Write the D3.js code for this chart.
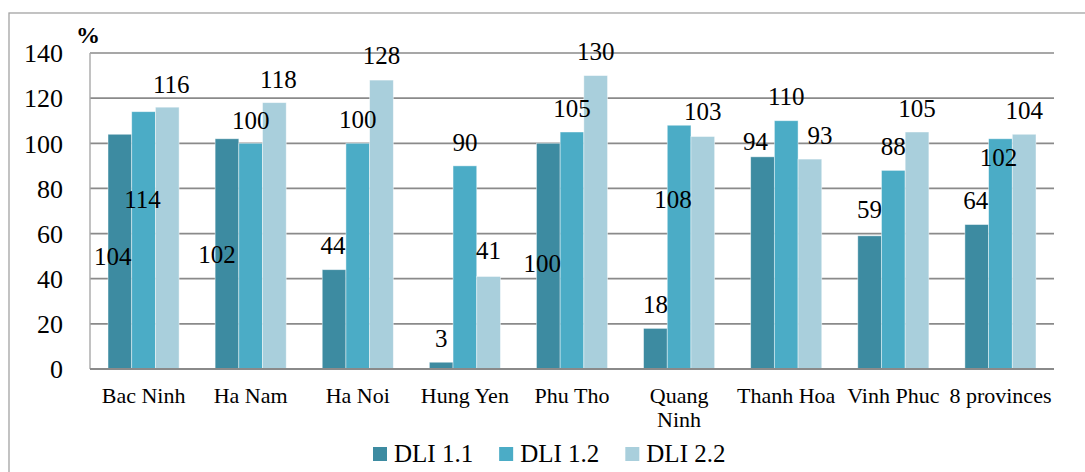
<!DOCTYPE html>
<html>
<head>
<meta charset="utf-8">
<script src="https://cdn.jsdelivr.net/npm/d3@7/dist/d3.min.js"></script>
<style>
  html, body { margin: 0; padding: 0; background: #fff; }
  svg { display: block; }
  text { font-family: "Liberation Serif", "Times New Roman", serif; fill: #000; }
</style>
</head>
<body>
<svg id="chart" width="1085" height="472"></svg>
<script>
// Provinces along the category axis
const provinces = ["Bac Ninh", "Ha Nam", "Ha Noi", "Hung Yen", "Phu Tho", "Quang Ninh", "Thanh Hoa", "Vinh Phuc", "8 provinces"];

// Series names and values (%)
const seriesNames = ["DLI 1.1", "DLI 1.2", "DLI 2.2"];
const dli11 = [104, 102, 44, 3, 100, 18, 94, 59, 64];
const dli12 = [114, 100, 100, 90, 105, 108, 110, 88, 102];
const dli22 = [116, 118, 128, 41, 130, 103, 93, 105, 104];

// Value axis ticks
const yTicks = [0, 20, 40, 60, 80, 100, 120, 140];

// Colours per series
const seriesColors = ["#3d8ba1", "#4bacc6", "#a9cfdc"];

// Placement of each value label relative to its bar top: [dx, dy] in px
const labelShift = [
  [[-7, 122], [-10, 116], [-1, -24], [0, -24], [-6, 120], [0, -24], [-7, -15], [0, -26], [-1, -24]],
  [[-1, 88], [0, -23], [0, -24], [0, -23], [0, -24], [-6, 74], [0, -24], [0, -24], [-2, 19]],
  [[4, -23], [4, -23], [0, -25], [0, -26], [0, -24], [0, -25], [10, -24], [0, -24], [0, -24]]
];

const seriesValues = [dli11, dli12, dli22];

const svg = d3.select("#chart");

// Outer chart frame
svg.append("rect")
  .attr("x", 9).attr("y", 13)
  .attr("width", 1200).attr("height", 600)
  .attr("fill", "none")
  .attr("stroke", "#a3a3a3")
  .attr("stroke-width", 1.3);

const plot = { left: 90, right: 1054, top: 53, bottom: 369 };

const x0 = d3.scaleBand()
  .domain(provinces)
  .range([plot.left, plot.right])
  .paddingInner(0)
  .paddingOuter(0);

const x1 = d3.scaleBand()
  .domain(seriesNames)
  .range([0, x0.bandwidth()])
  .paddingInner(0)
  .paddingOuter(0.76);

const y = d3.scaleLinear()
  .domain([0, 140])
  .range([plot.bottom, plot.top]);

// Horizontal gridlines
svg.append("g")
  .selectAll("line")
  .data(yTicks.filter(d => d > 0))
  .join("line")
  .attr("x1", plot.left).attr("x2", plot.right)
  .attr("y1", d => y(d)).attr("y2", d => y(d))
  .attr("stroke", "#8a8a8a")
  .attr("stroke-width", 1.7);

// Left axis line
svg.append("line")
  .attr("x1", plot.left).attr("x2", plot.left)
  .attr("y1", plot.top).attr("y2", plot.bottom)
  .attr("stroke", "#a8a8a8")
  .attr("stroke-width", 1.4);

// Value axis labels
const yAxis = d3.axisLeft(y).tickValues(yTicks).tickSize(0).tickPadding(27);
const yAxisG = svg.append("g")
  .attr("transform", `translate(${plot.left},0)`)
  .call(yAxis);
yAxisG.select(".domain").remove();
yAxisG.selectAll("text")
  .attr("font-family", "Liberation Serif")
  .attr("font-size", 26)
  .attr("dy", "0.34em")
  .attr("fill", "#000");

// Unit label
svg.append("text")
  .attr("x", 76).attr("y", 43)
  .attr("font-size", 24)
  .attr("font-weight", "bold")
  .text("%");

// Bars
const groups = svg.append("g")
  .selectAll("g")
  .data(provinces)
  .join("g")
  .attr("transform", d => `translate(${x0(d)},0)`);

groups.selectAll("rect")
  .data((p, i) => seriesNames.map((s, j) => ({ s, j, v: seriesValues[j][i] })))
  .join("rect")
  .attr("x", d => x1(d.s))
  .attr("width", x1.bandwidth())
  .attr("y", d => y(d.v))
  .attr("height", d => y(0) - y(d.v))
  .attr("fill", d => seriesColors[d.j])
  .attr("stroke", "rgba(255,255,255,0.55)")
  .attr("stroke-width", 0.8);

// Category axis line
svg.append("line")
  .attr("x1", plot.left).attr("x2", plot.right)
  .attr("y1", y(0)).attr("y2", y(0))
  .attr("stroke", "#8a8a8a")
  .attr("stroke-width", 2);

// Value labels
groups.selectAll("text.val")
  .data((p, i) => seriesNames.map((s, j) => ({ s, j, i, v: seriesValues[j][i] })))
  .join("text")
  .attr("class", "val")
  .attr("x", d => x1(d.s) + x1.bandwidth() / 2 + labelShift[d.j][d.i][0])
  .attr("y", d => y(d.v) + labelShift[d.j][d.i][1])
  .attr("dy", "0.34em")
  .attr("text-anchor", "middle")
  .attr("font-size", 25)
  .text(d => d.v);

// Category labels (long names wrap onto two lines)
const wrapped = { "Quang Ninh": ["Quang", "Ninh"] };
const catG = svg.append("g");
provinces.forEach(p => {
  const lines = wrapped[p] || [p];
  const t = catG.append("text")
    .attr("x", x0(p) + x0.bandwidth() / 2)
    .attr("y", 403)
    .attr("text-anchor", "middle")
    .attr("font-size", 22);
  lines.forEach((ln, k) => {
    t.append("tspan")
      .attr("x", x0(p) + x0.bandwidth() / 2)
      .attr("dy", k === 0 ? 0 : 24)
      .text(ln);
  });
});

// Legend
const legend = svg.append("g");
let lx = 373;
seriesNames.forEach((name, j) => {
  legend.append("rect")
    .attr("x", lx).attr("y", 447)
    .attr("width", 14).attr("height", 14)
    .attr("fill", seriesColors[j]);
  const t = legend.append("text")
    .attr("x", lx + 21).attr("y", 462)
    .attr("font-size", 25)
    .text(name);
  lx += 21 + t.node().getComputedTextLength() + 26;
});
</script>
</body>
</html>
